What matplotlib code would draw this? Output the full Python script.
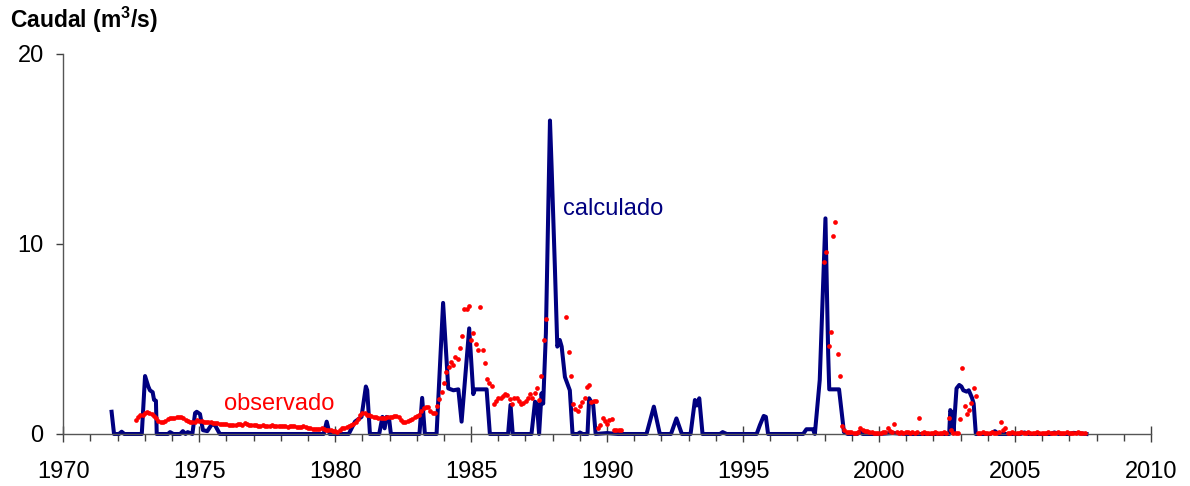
import numpy as np
import matplotlib.pyplot as plt

plt.rcParams['font.family'] = ['Liberation Sans', 'DejaVu Sans']
plt.rcParams['mathtext.fontset'] = 'custom'
plt.rcParams['mathtext.rm'] = 'Liberation Sans'
plt.rcParams['mathtext.bf'] = 'Liberation Sans:bold'

# Caudal calculado: vertices de la curva (año, m3/s)
anio_calc = [1971.78, 1971.87, 1972.05, 1972.15, 1972.25, 1972.89, 1973.01, 1973.13,
             1973.19, 1973.29, 1973.34, 1973.41, 1973.44, 1973.85, 1973.93, 1974.05,
             1974.30, 1974.40, 1974.50, 1974.58, 1974.75, 1974.85, 1974.91, 1975.03,
             1975.14, 1975.30, 1975.46, 1975.58, 1975.76, 1979.58, 1979.69, 1979.80,
             1980.50, 1980.73, 1980.97, 1981.13, 1981.18, 1981.28, 1981.62, 1981.74,
             1981.82, 1981.89, 1981.98, 1982.05, 1983.10, 1983.20, 1983.30, 1983.73,
             1983.97, 1984.16, 1984.35, 1984.53, 1984.65, 1984.93, 1985.08, 1985.14,
             1985.57, 1985.69, 1986.36, 1986.45, 1986.53, 1987.22, 1987.35, 1987.42,
             1987.50, 1987.59, 1987.65, 1987.75, 1987.90, 1987.96, 1988.08, 1988.17,
             1988.26, 1988.33, 1988.45, 1988.63, 1988.73, 1988.92, 1989.00, 1989.10,
             1989.28, 1989.34, 1989.49, 1989.58, 1990.00, 1990.40, 1991.45, 1991.72,
             1991.94, 1992.35, 1992.55, 1992.75, 1993.07, 1993.23, 1993.30, 1993.39,
             1993.51, 1994.15, 1994.25, 1994.40, 1995.50, 1995.62, 1995.76, 1995.84,
             1995.92, 1997.21, 1997.33, 1997.57, 1997.64, 1997.82, 1998.03, 1998.13,
             1998.17, 1998.53, 1998.71, 1998.85, 1999.20, 1999.29, 1999.40, 2000.00,
             2000.50, 2001.00, 2002.58, 2002.62, 2002.68, 2002.74, 2002.85, 2002.95,
             2003.03, 2003.10, 2003.22, 2003.30, 2003.42, 2003.48, 2003.56, 2004.10,
             2004.26, 2004.40, 2005.20, 2005.35, 2005.50, 2006.30, 2006.45, 2006.60,
             2007.00, 2007.15, 2007.63]
q_calc = [1.17, 0.0, 0.0, 0.12, 0.0, 0.0, 3.05, 2.5,
          2.3, 2.2, 1.8, 1.75, 0.0, 0.0, 0.1, 0.0,
          0.0, 0.15, 0.0, 0.1, 0.0, 1.1, 1.17, 1.05,
          0.2, 0.15, 0.5, 0.47, 0.0, 0.0, 0.65, 0.0,
          0.0, 0.65, 0.9, 2.5, 2.3, 0.0, 0.0, 0.9,
          0.3, 0.9, 0.85, 0.0, 0.0, 1.9, 0.0, 0.0,
          6.9, 2.4, 2.3, 2.35, 0.65, 5.56, 2.1, 2.35,
          2.35, 0.0, 0.0, 1.53, 0.0, 0.0, 1.7, 1.6,
          0.0, 2.14, 1.6, 5.3, 16.5, 14.07, 8.8, 4.6,
          4.95, 4.6, 3.0, 2.3, 0.0, 0.0, 0.08, 0.0,
          0.0, 1.88, 1.53, 0.0, 0.05, 0.0, 0.0, 1.44,
          0.0, 0.0, 0.82, 0.0, 0.0, 1.79, 1.5, 1.88,
          0.0, 0.0, 0.1, 0.0, 0.0, 0.47, 0.95, 0.9,
          0.0, 0.0, 0.25, 0.25, 0.0, 2.84, 11.35, 4.25,
          2.35, 2.35, 0.1, 0.0, 0.0, 0.12, 0.0, 0.0,
          0.05, 0.0, 0.0, 1.26, 1.1, 0.1, 2.4, 2.58,
          2.5, 2.3, 2.23, 2.3, 1.9, 1.6, 0.0, 0.0,
          0.15, 0.0, 0.0, 0.08, 0.0, 0.0, 0.08, 0.0,
          0.0, 0.06, 0.0]

# Caudal observado: datos mensuales en dos tramos
inicio_obs1 = 1972.67
q_obs1 = [0.74, 0.9, 1.0, 1.0,
          1.1, 1.17, 1.1, 1.05, 0.95, 0.85, 0.7, 0.65, 0.65, 0.7, 0.78, 0.82,
          0.82, 0.85, 0.9, 0.9, 0.9, 0.85, 0.75, 0.7, 0.65, 0.65, 0.65, 0.74,
          0.7, 0.68, 0.65, 0.65, 0.65, 0.62, 0.6, 0.56, 0.56, 0.55, 0.55, 0.5,
          0.5, 0.47, 0.47, 0.47, 0.47, 0.5, 0.5, 0.47, 0.56, 0.5, 0.47, 0.47,
          0.45, 0.45, 0.42, 0.42, 0.45, 0.42, 0.4, 0.42, 0.45, 0.42, 0.4, 0.4,
          0.42, 0.4, 0.4, 0.38, 0.4, 0.42, 0.4, 0.38, 0.36, 0.38, 0.4, 0.36,
          0.3, 0.3, 0.28, 0.25, 0.25, 0.28, 0.3, 0.28, 0.22, 0.2, 0.2, 0.18,
          0.15, 0.12, 0.2, 0.3, 0.32, 0.35, 0.4, 0.45, 0.55, 0.65, 0.8, 1.0,
          1.09, 1.1, 1.0, 0.98, 0.95, 0.9, 0.9, 0.85, 0.82, 0.82, 0.85, 0.9,
          0.9, 0.92, 0.95, 0.95, 0.9, 0.75, 0.65, 0.65, 0.7, 0.72, 0.8, 0.9,
          0.95, 1.0, 1.2, 1.35, 1.4, 1.4, 1.2, 1.09, 1.1, 1.45, 1.83, 2.23,
          2.67, 3.28, 3.5, 3.8, 3.63, 4.07, 3.95, 4.54, 5.17, 6.56, 6.6, 6.75,
          4.95, 5.3, 4.74, 4.42, 6.67, 4.42, 3.72, 2.88, 2.7, 2.53, 1.6, 1.75,
          1.88, 1.9, 2.0, 2.1, 2.05, 1.83, 1.6, 1.9, 1.9, 1.75, 1.6, 1.65,
          1.75, 1.9, 2.1, 1.9, 2.14, 2.44, 1.8, 3.05, 4.95, 6.03, np.nan, np.nan,
          np.nan, np.nan, np.nan, np.nan, np.nan, np.nan, 6.14, 4.33, 3.07, 1.6, 1.3, 1.2,
          1.45, 1.7, 1.9, 2.46, 2.6, 1.7, 1.72, 1.75, 0.3, 0.45, 0.86, 0.7,
          0.55, 0.75, 0.78, 0.2, 0.2, 0.2, 0.2]

inicio_obs2 = 1997.98
q_obs2 = [9.07, 9.6, 4.65, 5.39, 10.44, 11.18, 4.23, 3.07, 0.44, 0.2, 0.12, 0.1,
          0.08, 0.05, 0.05, 0.08, 0.33, 0.2, 0.15, 0.15, 0.12, 0.1, 0.05, 0.05,
          0.05, 0.05, 0.08, 0.1, 0.33, 0.15, 0.1, 0.54, 0.1, 0.05, 0.08, 0.05,
          0.1, 0.1, 0.05, 0.1, 0.05, 0.1, 0.86, 0.05, 0.1, 0.05, 0.05, 0.05,
          0.05, 0.08, 0.05, 0.05, 0.05, 0.08, 0.05, 0.86, 0.2, 0.05, 0.05, 0.05,
          0.77, 3.49, 1.49, 1.05, 1.26, 1.61, 2.44, 2.02, 0.05, 0.05, 0.08, 0.05,
          0.05, 0.05, 0.1, 0.05, 0.05, 0.08, 0.65, 0.2, 0.33, 0.05, 0.05, 0.08,
          0.05, 0.05, 0.05, 0.08, 0.05, 0.05, 0.1, 0.05, 0.05, 0.05, 0.08, 0.05,
          0.05, 0.05, 0.05, 0.08, 0.05, 0.05, 0.05, 0.1, 0.05, 0.05, 0.05, 0.08,
          0.05, 0.05, 0.05, 0.05, 0.08, 0.05, 0.05, 0.05]

t_obs1 = inicio_obs1 + np.arange(len(q_obs1)) / 12
t_obs2 = inicio_obs2 + np.arange(len(q_obs2)) / 12

fig = plt.figure(figsize=(11.9, 4.86), dpi=100)
ax = fig.add_axes([0.0531, 0.1070, 0.9141, 0.7819])

ax.plot(anio_calc, q_calc, color='#000080', lw=2.9, solid_joinstyle='round',
        clip_on=False, zorder=2)
ax.plot(t_obs1, q_obs1, 'o', color='#ff0000', ms=3.4, mec='none', clip_on=False, zorder=3)
ax.plot(t_obs2, q_obs2, 'o', color='#ff0000', ms=3.4, mec='none', clip_on=False, zorder=3)

ax.text(1988.37, 11.53, 'calculado', color='#000080', fontsize=17, va='baseline')
ax.text(1975.91, 1.26, 'observado', color='#ff0000', fontsize=17, va='baseline')

# Ejes
ax.set_xlim(1970, 2010)
ax.set_ylim(0, 20)
ax.set_xticks(np.arange(1970, 2011, 5))
ax.set_xticks(np.arange(1970, 2011, 1), minor=True)
ax.set_yticks([0, 10, 20])
for lado in ['top', 'right']:
    ax.spines[lado].set_visible(False)
for lado in ['left', 'bottom']:
    ax.spines[lado].set_color('#555555')
    ax.spines[lado].set_linewidth(1.0)
ax.tick_params(axis='x', which='major', direction='inout', length=11, width=1,
               color='#404040', labelsize=17, pad=14)
ax.tick_params(axis='x', which='minor', direction='out', length=5, width=1,
               color='#404040')
ax.tick_params(axis='y', which='major', direction='out', length=5, width=1,
               color='#404040', labelsize=17, pad=9)

fig.text(10 / 1190, 1 - 28 / 486, r'Caudal (m$^{\mathbf{3}}$/s)', fontsize=16.5,
         fontweight='bold', va='baseline', ha='left')

fig.savefig('out.png', dpi=100)
